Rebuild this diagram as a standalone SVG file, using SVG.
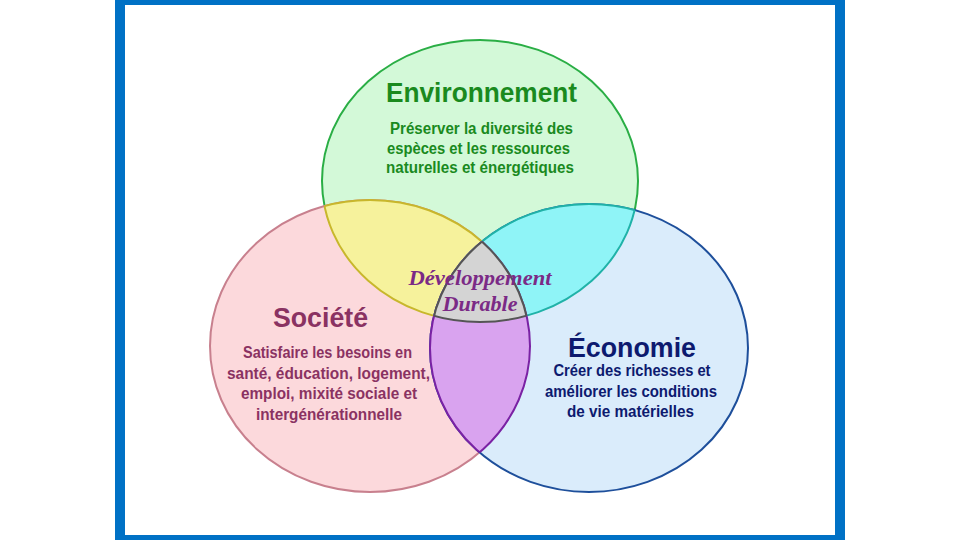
<svg xmlns="http://www.w3.org/2000/svg" width="960" height="540" viewBox="0 0 960 540">
<style>
.t{font-family:"Liberation Sans",Arial,sans-serif;font-weight:bold;text-anchor:middle}
.h{font-size:28px}
.d{font-size:16px}
.dd{font-family:"Liberation Serif","Times New Roman",serif;font-style:italic;font-weight:bold;font-size:22px;fill:#7b2a86;text-anchor:middle}
</style>
<defs>
<ellipse id="eEnv" cx="480" cy="181" rx="158" ry="141"/>
<ellipse id="eSoc" cx="370" cy="346" rx="160" ry="146"/>
<ellipse id="eEco" cx="589" cy="348" rx="159" ry="144"/>
<clipPath id="cEnv"><use href="#eEnv"/></clipPath>
<clipPath id="cSoc"><use href="#eSoc"/></clipPath>
<clipPath id="cEco"><use href="#eEco"/></clipPath>
</defs>
<rect width="960" height="540" fill="#ffffff"/>
<rect x="120" y="0" width="720" height="540" fill="#ffffff" stroke="#0071c5" stroke-width="10"/>

<g id="environnement">
<use href="#eEnv" fill="#d3f9d8" stroke="#2aae45" stroke-width="2"/>
</g>
<g id="societe">
<use href="#eSoc" fill="#fcd9dc" stroke="#c8808e" stroke-width="2"/>
</g>
<g id="economie">
<use href="#eEco" fill="#daecfb" stroke="#1e4f9b" stroke-width="2"/>
</g>

<g id="overlaps">
<g clip-path="url(#cEnv)"><use href="#eSoc" fill="#f6f29c" stroke="#c8b72c" stroke-width="2"/></g>
<g clip-path="url(#cSoc)"><use href="#eEnv" fill="none" stroke="#c8b72c" stroke-width="2"/></g>
<g clip-path="url(#cEnv)"><use href="#eEco" fill="#8ff4f7" stroke="#20b2a8" stroke-width="2"/></g>
<g clip-path="url(#cEco)"><use href="#eEnv" fill="none" stroke="#20b2a8" stroke-width="2"/></g>
<g clip-path="url(#cSoc)"><use href="#eEco" fill="#d9a3ef" stroke="#7a22a4" stroke-width="2"/></g>
<g clip-path="url(#cEco)"><use href="#eSoc" fill="none" stroke="#7a22a4" stroke-width="2"/></g>
</g>
<g id="developpement-durable">
<g clip-path="url(#cEnv)"><g clip-path="url(#cSoc)"><use href="#eEco" fill="#d4d4d4" stroke="#555555" stroke-width="2"/></g></g>
<g clip-path="url(#cEnv)"><g clip-path="url(#cEco)"><use href="#eSoc" fill="none" stroke="#555555" stroke-width="2"/></g></g>
<g clip-path="url(#cSoc)"><g clip-path="url(#cEco)"><use href="#eEnv" fill="none" stroke="#555555" stroke-width="2"/></g></g>
<text class="dd" x="480" y="285" textLength="143" lengthAdjust="spacingAndGlyphs">Développement</text>
<text class="dd" x="480" y="311" textLength="75" lengthAdjust="spacingAndGlyphs">Durable</text>
</g>

<g id="texte-environnement" fill="#1a8a1e">
<text class="t h" x="481.5" y="102" textLength="191" lengthAdjust="spacingAndGlyphs">Environnement</text>
<text class="t d" x="481.5" y="134" textLength="183" lengthAdjust="spacingAndGlyphs">Préserver la diversité des</text>
<text class="t d" x="478.5" y="154" textLength="183" lengthAdjust="spacingAndGlyphs">espèces et les ressources</text>
<text class="t d" x="480" y="173" textLength="188" lengthAdjust="spacingAndGlyphs">naturelles et énergétiques</text>
</g>
<g id="texte-societe" fill="#8a3262">
<text class="t h" x="320.5" y="327" textLength="95" lengthAdjust="spacingAndGlyphs">Société</text>
<text class="t d" x="327.5" y="357.5" textLength="169" lengthAdjust="spacingAndGlyphs">Satisfaire les besoins en</text>
<text class="t d" x="328.5" y="378.5" textLength="203" lengthAdjust="spacingAndGlyphs">santé, éducation, logement,</text>
<text class="t d" x="329" y="399" textLength="176" lengthAdjust="spacingAndGlyphs">emploi, mixité sociale et</text>
<text class="t d" x="329" y="419.5" textLength="146" lengthAdjust="spacingAndGlyphs">intergénérationnelle</text>
</g>
<g id="texte-economie" fill="#0d1a6f">
<text class="t h" x="632" y="356.5" textLength="128" lengthAdjust="spacingAndGlyphs">Économie</text>
<text class="t d" x="632" y="376" textLength="157" lengthAdjust="spacingAndGlyphs">Créer des richesses et</text>
<text class="t d" x="631" y="397" textLength="172" lengthAdjust="spacingAndGlyphs">améliorer les conditions</text>
<text class="t d" x="630.5" y="416.5" textLength="127" lengthAdjust="spacingAndGlyphs">de vie matérielles</text>
</g>
</svg>
